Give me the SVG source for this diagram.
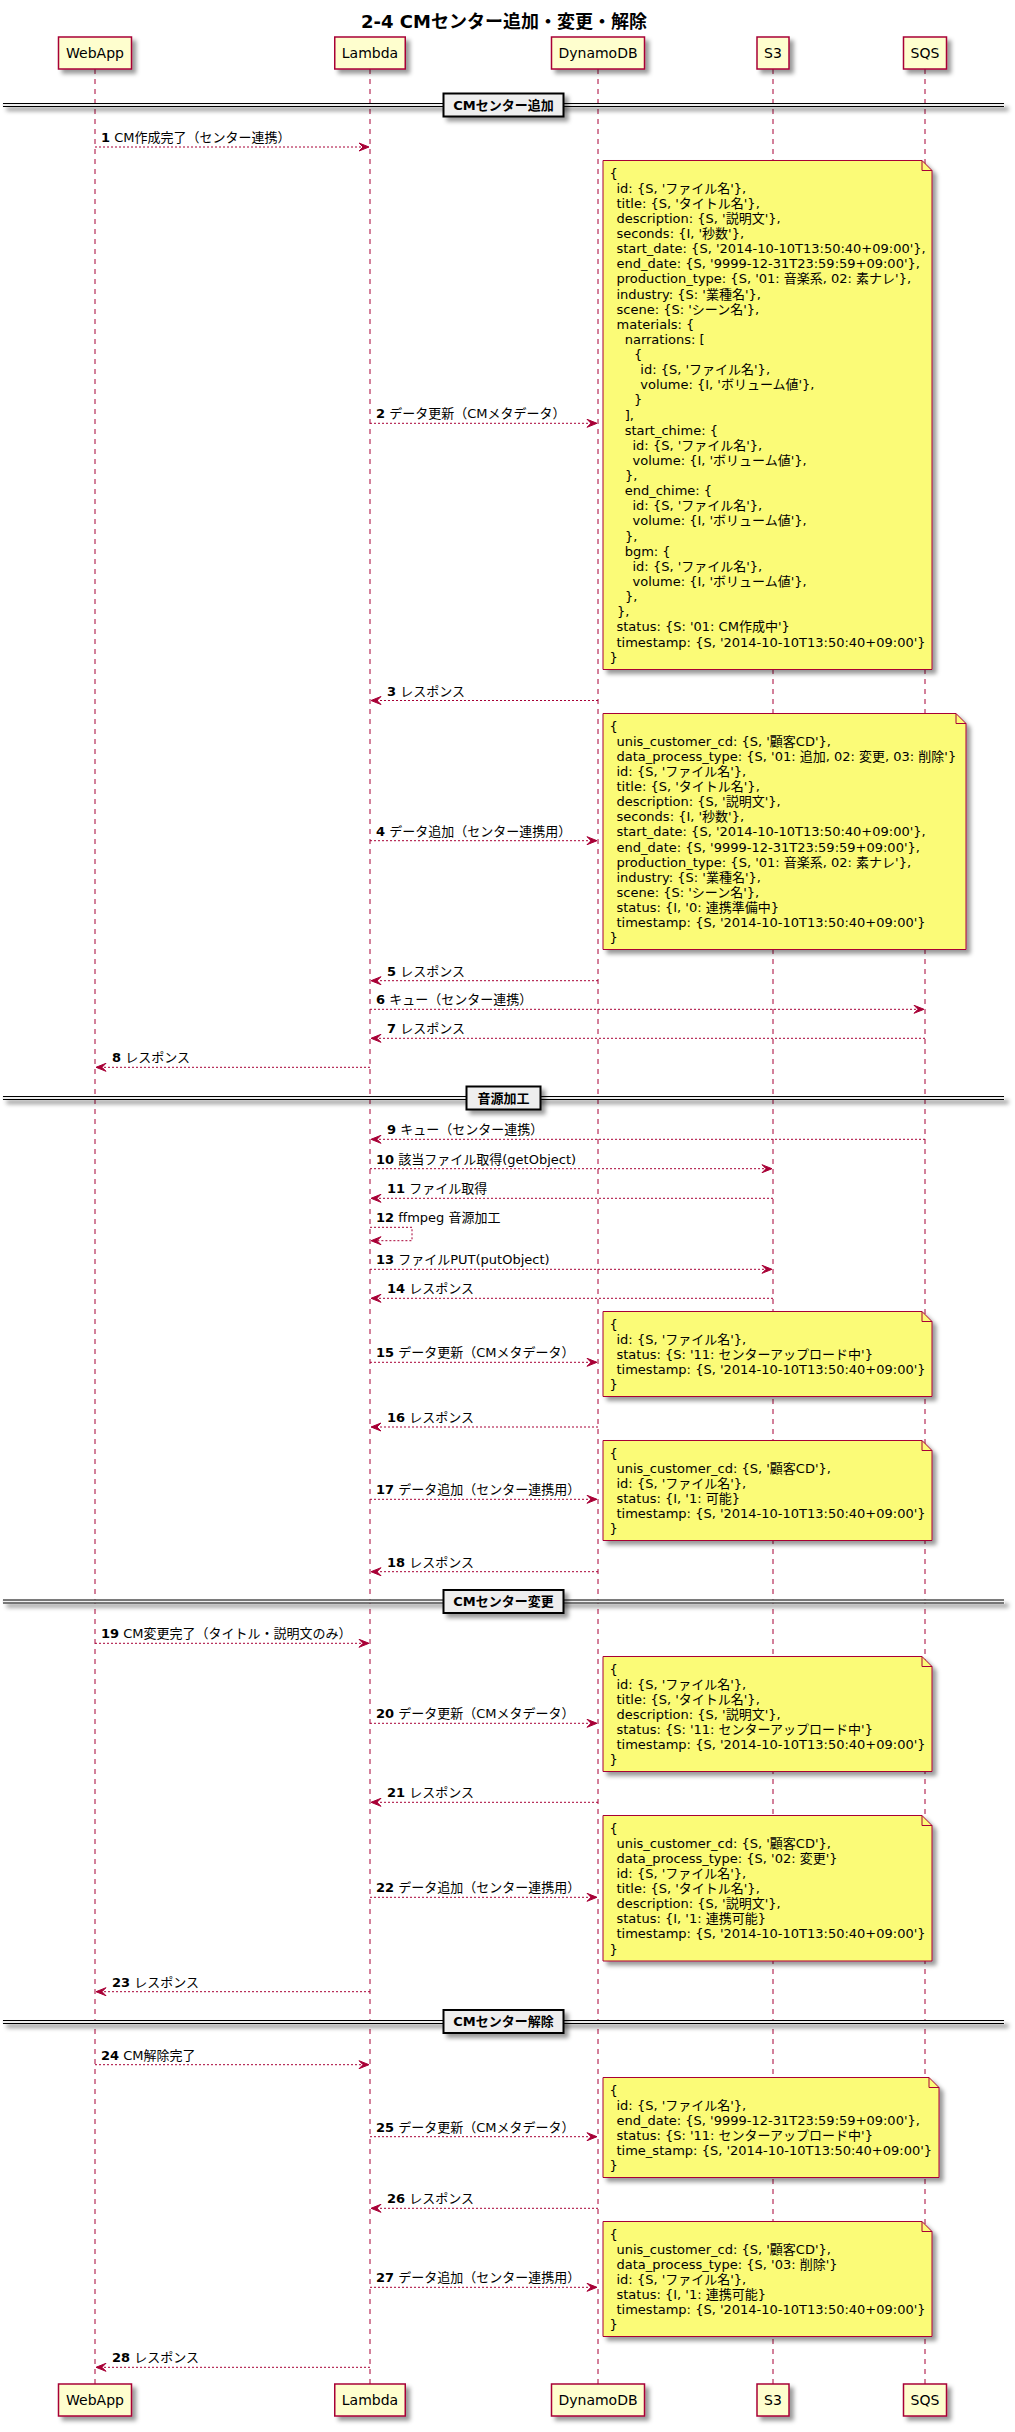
<svg xmlns="http://www.w3.org/2000/svg" width="1015" height="2432" viewBox="0 0 1015 2432">
<defs>
<filter id="sh" filterUnits="userSpaceOnUse" x="-10" y="-10" width="1040" height="2460">
<feGaussianBlur in="SourceAlpha" stdDeviation="2" result="b"/>
<feColorMatrix in="b" type="matrix" values="0 0 0 0 0  0 0 0 0 0  0 0 0 0 0  0 0 0 0.4 0" result="b2"/>
<feOffset in="b2" dx="4" dy="4" result="b3"/>
<feMerge><feMergeNode in="b3"/><feMergeNode in="SourceGraphic"/></feMerge>
</filter>
<style>
.ll{stroke:#A80036;stroke-width:1;stroke-dasharray:5,5;fill:none}
.pb{fill:#FEFECE;stroke:#A80036;stroke-width:1.5}
.pt{font-family:"DejaVu Sans","Noto Sans CJK JP",sans-serif;font-size:14px;fill:#000;text-anchor:middle}
.nb{fill:#FBFB77;stroke:#A80036;stroke-width:1}
.nf{fill:none;stroke:#A80036;stroke-width:1}
.nt{font-family:"DejaVu Sans","Noto Sans CJK JP",sans-serif;font-size:13px;fill:#000}
.m{stroke:#A80036;stroke-width:1;stroke-dasharray:2,2;fill:none}
.ah{fill:#A80036;stroke:#A80036;stroke-width:1}
.ml{font-family:"DejaVu Sans","Noto Sans CJK JP",sans-serif;font-size:13px;fill:#000}
.ml tspan.n{font-weight:bold}
.dg{fill:#EEEEEE;stroke:#EEEEEE;stroke-width:1}
.dl{stroke:#000;stroke-width:1}
.dr{fill:#EEEEEE;stroke:#000;stroke-width:2}
.dt{font-family:"DejaVu Sans","Noto Sans CJK JP",sans-serif;font-size:13px;font-weight:bold;fill:#000;text-anchor:middle}
.title{font-family:"DejaVu Sans","Noto Sans CJK JP",sans-serif;font-size:18px;font-weight:bold;fill:#000;text-anchor:middle}
</style>
</defs>
<rect width="1015" height="2432" fill="#FFFFFF"/>
<text class="title" x="504" y="28">2-4 CMセンター追加・変更・解除</text>

<g id="p-webapp">
<line class="ll" x1="95" y1="69" x2="95" y2="2384"/>
<rect class="pb" filter="url(#sh)" x="58.5" y="37" width="73" height="32"/>
<text class="pt" x="95" y="57.5">WebApp</text>
<rect class="pb" filter="url(#sh)" x="58.5" y="2384" width="73" height="32"/>
<text class="pt" x="95" y="2404.5">WebApp</text>
</g>
<g id="p-lambda">
<line class="ll" x1="370" y1="69" x2="370" y2="2384"/>
<rect class="pb" filter="url(#sh)" x="334.75" y="37" width="70.5" height="32"/>
<text class="pt" x="370" y="57.5">Lambda</text>
<rect class="pb" filter="url(#sh)" x="334.75" y="2384" width="70.5" height="32"/>
<text class="pt" x="370" y="2404.5">Lambda</text>
</g>
<g id="p-dynamodb">
<line class="ll" x1="598" y1="69" x2="598" y2="2384"/>
<rect class="pb" filter="url(#sh)" x="551.5" y="37" width="93" height="32"/>
<text class="pt" x="598" y="57.5">DynamoDB</text>
<rect class="pb" filter="url(#sh)" x="551.5" y="2384" width="93" height="32"/>
<text class="pt" x="598" y="2404.5">DynamoDB</text>
</g>
<g id="p-s3">
<line class="ll" x1="773" y1="69" x2="773" y2="2384"/>
<rect class="pb" filter="url(#sh)" x="757" y="37" width="32" height="32"/>
<text class="pt" x="773" y="57.5">S3</text>
<rect class="pb" filter="url(#sh)" x="757" y="2384" width="32" height="32"/>
<text class="pt" x="773" y="2404.5">S3</text>
</g>
<g id="p-sqs">
<line class="ll" x1="925" y1="69" x2="925" y2="2384"/>
<rect class="pb" filter="url(#sh)" x="903.5" y="37" width="43" height="32"/>
<text class="pt" x="925" y="57.5">SQS</text>
<rect class="pb" filter="url(#sh)" x="903.5" y="2384" width="43" height="32"/>
<text class="pt" x="925" y="2404.5">SQS</text>
</g>

<g id="div-add">
<rect class="dg" filter="url(#sh)" x="3" y="103.5" width="1001" height="3"/>
<line class="dl" x1="3" y1="103.5" x2="1004" y2="103.5"/>
<line class="dl" x1="3" y1="106.5" x2="1004" y2="106.5"/>
<rect class="dr" filter="url(#sh)" x="443.5" y="93.5" width="120" height="23"/>
<text class="dt" x="503.5" y="109.5">CMセンター追加</text>
</g>
<g id="div-audio">
<rect class="dg" filter="url(#sh)" x="3" y="1096.5" width="1001" height="3"/>
<line class="dl" x1="3" y1="1096.5" x2="1004" y2="1096.5"/>
<line class="dl" x1="3" y1="1099.5" x2="1004" y2="1099.5"/>
<rect class="dr" filter="url(#sh)" x="466.5" y="1086.5" width="74" height="23"/>
<text class="dt" x="503.5" y="1102.5">音源加工</text>
</g>
<g id="div-change">
<rect class="dg" filter="url(#sh)" x="3" y="1600" width="1001" height="3"/>
<line class="dl" x1="3" y1="1600" x2="1004" y2="1600"/>
<line class="dl" x1="3" y1="1603" x2="1004" y2="1603"/>
<rect class="dr" filter="url(#sh)" x="443.5" y="1590" width="120" height="23"/>
<text class="dt" x="503.5" y="1606">CMセンター変更</text>
</g>
<g id="div-delete">
<rect class="dg" filter="url(#sh)" x="3" y="2020.5" width="1001" height="3"/>
<line class="dl" x1="3" y1="2020.5" x2="1004" y2="2020.5"/>
<line class="dl" x1="3" y1="2023.5" x2="1004" y2="2023.5"/>
<rect class="dr" filter="url(#sh)" x="443.5" y="2010" width="120" height="23"/>
<text class="dt" x="503.5" y="2026">CMセンター解除</text>
</g>

<g id="note1">
<path class="nb" filter="url(#sh)" d="M603,160.5 L603,669.5 L932,669.5 L932,170.5 L922,160.5 Z"/>
<path class="nf" d="M922,160.5 L922,170.5 L932,170.5"/>
<text class="nt">
<tspan x="609.5" y="177.5">{</tspan>
<tspan x="616.5" dy="15.13">id: {S, 'ファイル名'},</tspan>
<tspan x="616.5" dy="15.13">title: {S, 'タイトル名'},</tspan>
<tspan x="616.5" dy="15.13">description: {S, '説明文'},</tspan>
<tspan x="616.5" dy="15.13">seconds: {I, '秒数'},</tspan>
<tspan x="616.5" dy="15.13">start_date: {S, '2014-10-10T13:50:40+09:00'},</tspan>
<tspan x="616.5" dy="15.13">end_date: {S, '9999-12-31T23:59:59+09:00'},</tspan>
<tspan x="616.5" dy="15.13">production_type: {S, '01: 音楽系, 02: 素ナレ'},</tspan>
<tspan x="616.5" dy="15.13">industry: {S: '業種名'},</tspan>
<tspan x="616.5" dy="15.13">scene: {S: 'シーン名'},</tspan>
<tspan x="616.5" dy="15.13">materials: {</tspan>
<tspan x="624.7" dy="15.13">narrations: [</tspan>
<tspan x="634" dy="15.13">{</tspan>
<tspan x="640.3" dy="15.13">id: {S, 'ファイル名'},</tspan>
<tspan x="640.3" dy="15.13">volume: {I, 'ボリューム値'},</tspan>
<tspan x="634" dy="15.13">}</tspan>
<tspan x="624.7" dy="15.13">],</tspan>
<tspan x="624.7" dy="15.13">start_chime: {</tspan>
<tspan x="632.5" dy="15.13">id: {S, 'ファイル名'},</tspan>
<tspan x="632.5" dy="15.13">volume: {I, 'ボリューム値'},</tspan>
<tspan x="625" dy="15.13">},</tspan>
<tspan x="624.7" dy="15.13">end_chime: {</tspan>
<tspan x="632.5" dy="15.13">id: {S, 'ファイル名'},</tspan>
<tspan x="632.5" dy="15.13">volume: {I, 'ボリューム値'},</tspan>
<tspan x="625" dy="15.13">},</tspan>
<tspan x="624.7" dy="15.13">bgm: {</tspan>
<tspan x="632.5" dy="15.13">id: {S, 'ファイル名'},</tspan>
<tspan x="632.5" dy="15.13">volume: {I, 'ボリューム値'},</tspan>
<tspan x="625" dy="15.13">},</tspan>
<tspan x="617" dy="15.13">},</tspan>
<tspan x="616.5" dy="15.13">status: {S: '01: CM作成中'}</tspan>
<tspan x="616.5" dy="15.13">timestamp: {S, '2014-10-10T13:50:40+09:00'}</tspan>
<tspan x="609.5" dy="15.13">}</tspan>
</text>
</g>

<g id="note2">
<path class="nb" filter="url(#sh)" d="M603,713.5 L603,949.5 L966,949.5 L966,723.5 L956,713.5 Z"/>
<path class="nf" d="M956,713.5 L956,723.5 L966,723.5"/>
<text class="nt">
<tspan x="609.5" y="730.5">{</tspan>
<tspan x="616.5" dy="15.13">unis_customer_cd: {S, '顧客CD'},</tspan>
<tspan x="616.5" dy="15.13">data_process_type: {S, '01: 追加, 02: 変更, 03: 削除'}</tspan>
<tspan x="616.5" dy="15.13">id: {S, 'ファイル名'},</tspan>
<tspan x="616.5" dy="15.13">title: {S, 'タイトル名'},</tspan>
<tspan x="616.5" dy="15.13">description: {S, '説明文'},</tspan>
<tspan x="616.5" dy="15.13">seconds: {I, '秒数'},</tspan>
<tspan x="616.5" dy="15.13">start_date: {S, '2014-10-10T13:50:40+09:00'},</tspan>
<tspan x="616.5" dy="15.13">end_date: {S, '9999-12-31T23:59:59+09:00'},</tspan>
<tspan x="616.5" dy="15.13">production_type: {S, '01: 音楽系, 02: 素ナレ'},</tspan>
<tspan x="616.5" dy="15.13">industry: {S: '業種名'},</tspan>
<tspan x="616.5" dy="15.13">scene: {S: 'シーン名'},</tspan>
<tspan x="616.5" dy="15.13">status: {I, '0: 連携準備中}</tspan>
<tspan x="616.5" dy="15.13">timestamp: {S, '2014-10-10T13:50:40+09:00'}</tspan>
<tspan x="609.5" dy="15.13">}</tspan>
</text>
</g>

<g id="note3">
<path class="nb" filter="url(#sh)" d="M603,1311.5 L603,1396.5 L932,1396.5 L932,1321.5 L922,1311.5 Z"/>
<path class="nf" d="M922,1311.5 L922,1321.5 L932,1321.5"/>
<text class="nt">
<tspan x="609.5" y="1328.5">{</tspan>
<tspan x="616.5" dy="15.13">id: {S, 'ファイル名'},</tspan>
<tspan x="616.5" dy="15.13">status: {S: '11: センターアップロード中'}</tspan>
<tspan x="616.5" dy="15.13">timestamp: {S, '2014-10-10T13:50:40+09:00'}</tspan>
<tspan x="609.5" dy="15.13">}</tspan>
</text>
</g>

<g id="note4">
<path class="nb" filter="url(#sh)" d="M603,1440.5 L603,1540.5 L932,1540.5 L932,1450.5 L922,1440.5 Z"/>
<path class="nf" d="M922,1440.5 L922,1450.5 L932,1450.5"/>
<text class="nt">
<tspan x="609.5" y="1457.5">{</tspan>
<tspan x="616.5" dy="15.13">unis_customer_cd: {S, '顧客CD'},</tspan>
<tspan x="616.5" dy="15.13">id: {S, 'ファイル名'},</tspan>
<tspan x="616.5" dy="15.13">status: {I, '1: 可能}</tspan>
<tspan x="616.5" dy="15.13">timestamp: {S, '2014-10-10T13:50:40+09:00'}</tspan>
<tspan x="609.5" dy="15.13">}</tspan>
</text>
</g>

<g id="note5">
<path class="nb" filter="url(#sh)" d="M603,1656.5 L603,1771.5 L932,1771.5 L932,1666.5 L922,1656.5 Z"/>
<path class="nf" d="M922,1656.5 L922,1666.5 L932,1666.5"/>
<text class="nt">
<tspan x="609.5" y="1673.5">{</tspan>
<tspan x="616.5" dy="15.13">id: {S, 'ファイル名'},</tspan>
<tspan x="616.5" dy="15.13">title: {S, 'タイトル名'},</tspan>
<tspan x="616.5" dy="15.13">description: {S, '説明文'},</tspan>
<tspan x="616.5" dy="15.13">status: {S: '11: センターアップロード中'}</tspan>
<tspan x="616.5" dy="15.13">timestamp: {S, '2014-10-10T13:50:40+09:00'}</tspan>
<tspan x="609.5" dy="15.13">}</tspan>
</text>
</g>

<g id="note6">
<path class="nb" filter="url(#sh)" d="M603,1815.5 L603,1961 L932,1961 L932,1825.5 L922,1815.5 Z"/>
<path class="nf" d="M922,1815.5 L922,1825.5 L932,1825.5"/>
<text class="nt">
<tspan x="609.5" y="1832.5">{</tspan>
<tspan x="616.5" dy="15.13">unis_customer_cd: {S, '顧客CD'},</tspan>
<tspan x="616.5" dy="15.13">data_process_type: {S, '02: 変更'}</tspan>
<tspan x="616.5" dy="15.13">id: {S, 'ファイル名'},</tspan>
<tspan x="616.5" dy="15.13">title: {S, 'タイトル名'},</tspan>
<tspan x="616.5" dy="15.13">description: {S, '説明文'},</tspan>
<tspan x="616.5" dy="15.13">status: {I, '1: 連携可能}</tspan>
<tspan x="616.5" dy="15.13">timestamp: {S, '2014-10-10T13:50:40+09:00'}</tspan>
<tspan x="609.5" dy="15.13">}</tspan>
</text>
</g>

<g id="note7">
<path class="nb" filter="url(#sh)" d="M603,2077.5 L603,2177.5 L939,2177.5 L939,2087.5 L929,2077.5 Z"/>
<path class="nf" d="M929,2077.5 L929,2087.5 L939,2087.5"/>
<text class="nt">
<tspan x="609.5" y="2094.5">{</tspan>
<tspan x="616.5" dy="15.13">id: {S, 'ファイル名'},</tspan>
<tspan x="616.5" dy="15.13">end_date: {S, '9999-12-31T23:59:59+09:00'},</tspan>
<tspan x="616.5" dy="15.13">status: {S: '11: センターアップロード中'}</tspan>
<tspan x="616.5" dy="15.13">time_stamp: {S, '2014-10-10T13:50:40+09:00'}</tspan>
<tspan x="609.5" dy="15.13">}</tspan>
</text>
</g>

<g id="note8">
<path class="nb" filter="url(#sh)" d="M603,2221.5 L603,2336.5 L932,2336.5 L932,2231.5 L922,2221.5 Z"/>
<path class="nf" d="M922,2221.5 L922,2231.5 L932,2231.5"/>
<text class="nt">
<tspan x="609.5" y="2238.5">{</tspan>
<tspan x="616.5" dy="15.13">unis_customer_cd: {S, '顧客CD'},</tspan>
<tspan x="616.5" dy="15.13">data_process_type: {S, '03: 削除'}</tspan>
<tspan x="616.5" dy="15.13">id: {S, 'ファイル名'},</tspan>
<tspan x="616.5" dy="15.13">status: {I, '1: 連携可能}</tspan>
<tspan x="616.5" dy="15.13">timestamp: {S, '2014-10-10T13:50:40+09:00'}</tspan>
<tspan x="609.5" dy="15.13">}</tspan>
</text>
</g>

<g id="connectors">
<line class="m" x1="95" y1="147" x2="368" y2="147"/><polygon class="ah" points="359,143 369,147 359,151 363,147"/>
<text class="ml" x="101" y="142"><tspan class="n">1</tspan> CM作成完了（センター連携）</text>

<line class="m" x1="370" y1="423.3" x2="596" y2="423.3"/><polygon class="ah" points="587,419.3 597,423.3 587,427.3 591,423.3"/>
<text class="ml" x="376" y="418.3"><tspan class="n">2</tspan> データ更新（CMメタデータ）</text>

<line class="m" x1="598" y1="700.5" x2="372" y2="700.5"/><polygon class="ah" points="381,696.5 371,700.5 381,704.5 377,700.5"/>
<text class="ml" x="387" y="695.5"><tspan class="n">3</tspan> レスポンス</text>

<line class="m" x1="370" y1="840.7" x2="596" y2="840.7"/><polygon class="ah" points="587,836.7 597,840.7 587,844.7 591,840.7"/>
<text class="ml" x="376" y="835.7"><tspan class="n">4</tspan> データ追加（センター連携用）</text>

<line class="m" x1="598" y1="980.7" x2="372" y2="980.7"/><polygon class="ah" points="381,976.7 371,980.7 381,984.7 377,980.7"/>
<text class="ml" x="387" y="975.7"><tspan class="n">5</tspan> レスポンス</text>

<line class="m" x1="370" y1="1009.3" x2="923" y2="1009.3"/><polygon class="ah" points="914,1005.3 924,1009.3 914,1013.3 918,1009.3"/>
<text class="ml" x="376" y="1004.3"><tspan class="n">6</tspan> キュー（センター連携）</text>

<line class="m" x1="925" y1="1038.3" x2="372" y2="1038.3"/><polygon class="ah" points="381,1034.3 371,1038.3 381,1042.3 377,1038.3"/>
<text class="ml" x="387" y="1033.3"><tspan class="n">7</tspan> レスポンス</text>

<line class="m" x1="370" y1="1067.3" x2="97" y2="1067.3"/><polygon class="ah" points="106,1063.3 96,1067.3 106,1071.3 102,1067.3"/>
<text class="ml" x="112" y="1062.3"><tspan class="n">8</tspan> レスポンス</text>

<line class="m" x1="925" y1="1139.3" x2="372" y2="1139.3"/><polygon class="ah" points="381,1135.3 371,1139.3 381,1143.3 377,1139.3"/>
<text class="ml" x="387" y="1134.3"><tspan class="n">9</tspan> キュー（センター連携）</text>

<line class="m" x1="370" y1="1168.7" x2="771" y2="1168.7"/><polygon class="ah" points="762,1164.7 772,1168.7 762,1172.7 766,1168.7"/>
<text class="ml" x="376" y="1163.7"><tspan class="n">10</tspan> 該当ファイル取得(getObject)</text>

<line class="m" x1="773" y1="1198.3" x2="372" y2="1198.3"/><polygon class="ah" points="381,1194.3 371,1198.3 381,1202.3 377,1198.3"/>
<text class="ml" x="387" y="1193.3"><tspan class="n">11</tspan> ファイル取得</text>

<polyline class="m" points="370,1227.3 412,1227.3 412,1240.7 372,1240.7"/><polygon class="ah" points="381,1236.7 371,1240.7 381,1244.7 377,1240.7"/>
<text class="ml" x="376" y="1222.3"><tspan class="n">12</tspan> ffmpeg 音源加工</text>

<line class="m" x1="370" y1="1269.3" x2="771" y2="1269.3"/><polygon class="ah" points="762,1265.3 772,1269.3 762,1273.3 766,1269.3"/>
<text class="ml" x="376" y="1264.3"><tspan class="n">13</tspan> ファイルPUT(putObject)</text>

<line class="m" x1="773" y1="1298.3" x2="372" y2="1298.3"/><polygon class="ah" points="381,1294.3 371,1298.3 381,1302.3 377,1298.3"/>
<text class="ml" x="387" y="1293.3"><tspan class="n">14</tspan> レスポンス</text>

<line class="m" x1="370" y1="1362.3" x2="596" y2="1362.3"/><polygon class="ah" points="587,1358.3 597,1362.3 587,1366.3 591,1362.3"/>
<text class="ml" x="376" y="1357.3"><tspan class="n">15</tspan> データ更新（CMメタデータ）</text>

<line class="m" x1="598" y1="1427" x2="372" y2="1427"/><polygon class="ah" points="381,1423 371,1427 381,1431 377,1427"/>
<text class="ml" x="387" y="1422"><tspan class="n">16</tspan> レスポンス</text>

<line class="m" x1="370" y1="1499.3" x2="596" y2="1499.3"/><polygon class="ah" points="587,1495.3 597,1499.3 587,1503.3 591,1499.3"/>
<text class="ml" x="376" y="1494.3"><tspan class="n">17</tspan> データ追加（センター連携用）</text>

<line class="m" x1="598" y1="1571.7" x2="372" y2="1571.7"/><polygon class="ah" points="381,1567.7 371,1571.7 381,1575.7 377,1571.7"/>
<text class="ml" x="387" y="1566.7"><tspan class="n">18</tspan> レスポンス</text>

<line class="m" x1="95" y1="1643.3" x2="368" y2="1643.3"/><polygon class="ah" points="359,1639.3 369,1643.3 359,1647.3 363,1643.3"/>
<text class="ml" x="101" y="1638.3"><tspan class="n">19</tspan> CM変更完了（タイトル・説明文のみ）</text>

<line class="m" x1="370" y1="1723.3" x2="596" y2="1723.3"/><polygon class="ah" points="587,1719.3 597,1723.3 587,1727.3 591,1723.3"/>
<text class="ml" x="376" y="1718.3"><tspan class="n">20</tspan> データ更新（CMメタデータ）</text>

<line class="m" x1="598" y1="1802.3" x2="372" y2="1802.3"/><polygon class="ah" points="381,1798.3 371,1802.3 381,1806.3 377,1802.3"/>
<text class="ml" x="387" y="1797.3"><tspan class="n">21</tspan> レスポンス</text>

<line class="m" x1="370" y1="1897.3" x2="596" y2="1897.3"/><polygon class="ah" points="587,1893.3 597,1897.3 587,1901.3 591,1897.3"/>
<text class="ml" x="376" y="1892.3"><tspan class="n">22</tspan> データ追加（センター連携用）</text>

<line class="m" x1="370" y1="1991.7" x2="97" y2="1991.7"/><polygon class="ah" points="106,1987.7 96,1991.7 106,1995.7 102,1991.7"/>
<text class="ml" x="112" y="1986.7"><tspan class="n">23</tspan> レスポンス</text>

<line class="m" x1="95" y1="2064.7" x2="368" y2="2064.7"/><polygon class="ah" points="359,2060.7 369,2064.7 359,2068.7 363,2064.7"/>
<text class="ml" x="101" y="2059.7"><tspan class="n">24</tspan> CM解除完了</text>

<line class="m" x1="370" y1="2136.7" x2="596" y2="2136.7"/><polygon class="ah" points="587,2132.7 597,2136.7 587,2140.7 591,2136.7"/>
<text class="ml" x="376" y="2131.7"><tspan class="n">25</tspan> データ更新（CMメタデータ）</text>

<line class="m" x1="598" y1="2208.3" x2="372" y2="2208.3"/><polygon class="ah" points="381,2204.3 371,2208.3 381,2212.3 377,2208.3"/>
<text class="ml" x="387" y="2203.3"><tspan class="n">26</tspan> レスポンス</text>

<line class="m" x1="370" y1="2287.3" x2="596" y2="2287.3"/><polygon class="ah" points="587,2283.3 597,2287.3 587,2291.3 591,2287.3"/>
<text class="ml" x="376" y="2282.3"><tspan class="n">27</tspan> データ追加（センター連携用）</text>

<line class="m" x1="370" y1="2367.3" x2="97" y2="2367.3"/><polygon class="ah" points="106,2363.3 96,2367.3 106,2371.3 102,2367.3"/>
<text class="ml" x="112" y="2362.3"><tspan class="n">28</tspan> レスポンス</text>
</g>
</svg>
